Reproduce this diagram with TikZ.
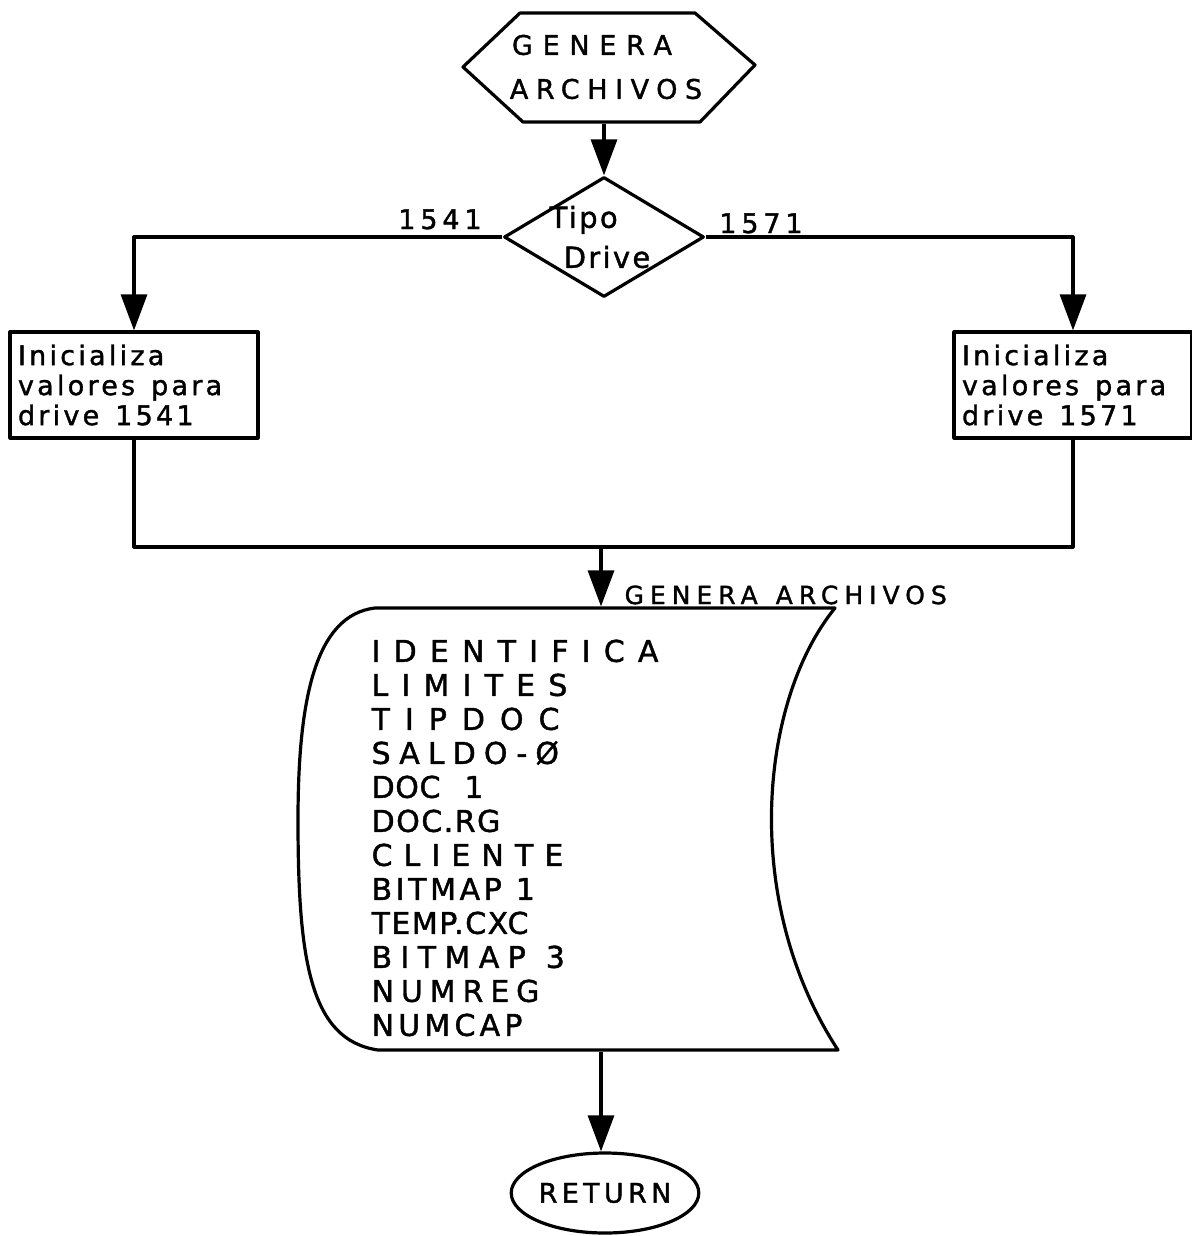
\documentclass[tikz,border=0pt]{standalone}
\usepackage{fontspec}
\setmainfont{DejaVu Sans}[FakeBold=1.4]
\usetikzlibrary{arrows.meta,shapes.geometric}
\newcommand\lsp[2]{{\addfontfeature{LetterSpace=#1}#2}}
\newcommand\wsp[1]{\hspace*{#1}}
\begin{document}
\begin{tikzpicture}[x=0.5pt,y=-0.5pt,
  line width=1.6pt, line join=round,
  arr/.style={-{Triangle[length=18pt,width=13pt]}},
  procbox/.style={draw, rectangle, minimum width=#1, minimum height=53pt,
    text width=#1-8pt, align=left, inner xsep=4pt, inner ysep=2pt,
    font=\fontsize{13.5}{15}\selectfont\addfontfeature{LetterSpace=12}},
  lbl/.style={inner sep=0pt, font=\fontsize{13.5}{15}\selectfont\addfontfeature{LetterSpace=18}},
  anchorbox/.style={inner sep=0pt, rectangle}]
\useasboundingbox (0,0) rectangle (1192,1236);

% start hexagon
\node[anchorbox, minimum width=145pt, minimum height=55pt, align=center,
  font=\fontsize{13.5}{22}\selectfont] (hex) at (606,67)
  {\lsp{36}{GENERA}\hspace*{14pt}\\\lsp{28}{ARCHIVOS}};
\draw (520,13) -- (695,13) -- (755,65) -- (700,122) -- (523,122) -- (463,67) -- cycle;

% decision
\node[diamond, draw, inner sep=0pt, minimum width=100pt, minimum height=60pt,
  label={[align=left, xshift=-2pt, font=\fontsize{14.5}{20}\selectfont\addfontfeature{LetterSpace=8}]center:Tipo\\\hspace*{7pt}Drive}]
  (dec) at (604,237) {};
\draw[arr] (dec.north |- hex.south) -- (dec.north);

% process boxes
\node[procbox=124pt] (b1) at (134,385) {Inicializa\\valores\wsp{8pt}para\\drive\wsp{8pt}1541};
\node[procbox=119pt] (b2) at (1073,385) {Inicializa\\valores\wsp{8pt}para\\drive\wsp{8pt}1571};

\draw[arr] (dec.west) -| (b1.north);
\draw[arr] (dec.east) -| (b2.north);
\node[lbl, anchor=south] (l1541) at (440,231) {1541};
\node[lbl, anchor=south] (l1571) at (761,235) {1571};

% merge
\coordinate (mergeC) at (601,547);
\draw (b1.south) |- (mergeC) -| (b2.south);

% document
\node[anchorbox, minimum width=270pt, minimum height=221pt] (doc) at (568,829) {};
\draw (375,608) -- (835,608) .. controls (760,700) and (740,900) .. (838,1050)
  -- (378,1050) .. controls (310,1040) and (298,960) .. (298,820)
  .. controls (298,700) and (315,615) .. (375,608) -- cycle;
\draw[arr] (mergeC) -- (mergeC |- doc.north);
\node[inner sep=0pt, anchor=south west, font=\fontsize{12.5}{14}\selectfont] (glbl) at (623,606)
  {\lsp{24}{GENERA}\wsp{9pt}\lsp{24}{ARCHIVOS}};

\node[anchor=north west, inner sep=0pt, align=left, font=\fontsize{15}{17}\selectfont] (docText) at (370,638)
  {\lsp{44}{IDENTIFICA}\\
   \lsp{44}{LIMITES}\\
   \lsp{50}{TIPDOC}\\
   \lsp{27}{SALDO-Ø}\\
   \lsp{2}{DOC}\wsp{12pt}\lsp{2}{1}\\
   \lsp{5}{DOC.RG}\\
   \lsp{37}{CLIENTE}\\
   \lsp{12}{BITMAP}\wsp{7pt}\lsp{12}{1}\\
   \lsp{5}{TEMP.CXC}\\
   \lsp{28}{BITMAP}\wsp{10pt}\lsp{28}{3}\\
   \lsp{23}{NUMREG}\\
   \lsp{14}{NUMCAP}};

% return
\node[ellipse, draw, inner sep=0pt, minimum width=80pt, minimum height=40pt,
  font=\fontsize{13.5}{14}\selectfont\addfontfeature{LetterSpace=16}] (ret) at (605,1193) {RETURN};
\draw[arr] (mergeC |- doc.south) -- (mergeC |- ret.north);
\end{tikzpicture}
\end{document}
